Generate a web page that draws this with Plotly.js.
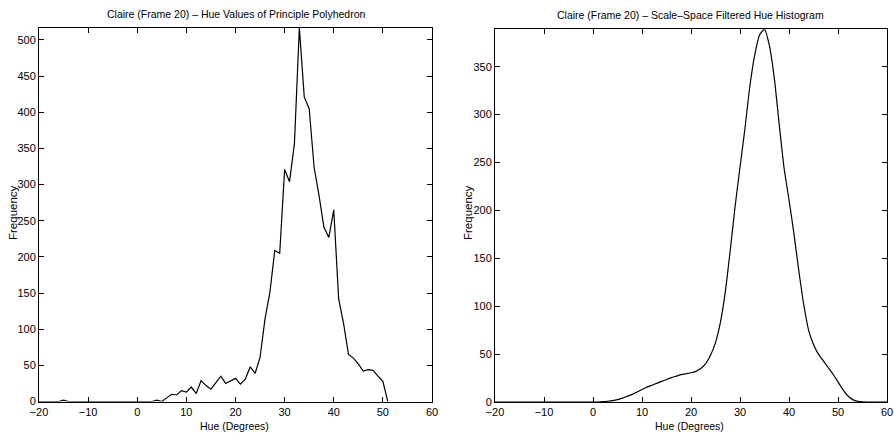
<!DOCTYPE html>
<html>
<head>
<meta charset="utf-8">
<script src="https://cdn.plot.ly/plotly-3.0.1.min.js"></script>
<style>html,body{margin:0;padding:0;background:#fff;}#chart{width:894px;height:437px;}</style>
</head>
<body>
<div id="chart"></div>
<script>
// Hue values (degrees), one sample per degree
const hueLeft = [];
for (let h = -20; h <= 51; h++) hueLeft.push(h);
// Raw histogram frequency (-20 .. 51)
const freqRaw = [
  0, 0, 0, 0, 0, 2, 0, 0, 0, 0,      // -20..-11
  0, 0, 0, 0, 0, 0, 0, 0, 0, 0,      // -10..-1
  1, 0, 0, 0, 2, 0, 5, 10, 9, 15,    // 0..9
  13, 20, 11, 29, 22, 17, 26, 35, 25, 28, // 10..19
  32, 24, 31, 48, 39, 61, 114, 151, 209, 205, // 20..29
  321, 304, 357, 517, 421, 405, 324, 285, 241, 227, // 30..39
  265, 142, 108, 65, 60, 52, 42, 44, 43, 35, // 40..49
  28, 0                               // 50..51
];

const hueRight = [];
for (let h = -20; h <= 60; h++) hueRight.push(h);
// Scale-space filtered histogram (-20 .. 60)
const freqFiltered = [
  0, 0, 0, 0, 0, 0, 0, 0, 0, 0,      // -20..-11
  0, 0, 0, 0, 0, 0, 0, 0, 0, 0,      // -10..-1
  0, 0, 0.3, 0.8, 1.5, 2.5, 4, 6, 8, 10.5, // 0..9
  13, 15.5, 17.5, 19.5, 21.5, 23.5, 25.5, 27, 28.5, 29.5, // 10..19
  30.5, 32, 35, 40, 49, 62, 83, 115, 158, 204, // 20..29
  245, 285, 329, 362, 383, 389, 372, 338, 290, 244, // 30..39
  211, 176, 137, 102, 75, 60, 50, 43, 36, 29, // 40..49
  21, 13, 6.5, 2.5, 0.8, 0.2, 0, 0, 0, 0, // 50..59
  0                                   // 60
];

const xTickVals = [-20, -10, 0, 10, 20, 30, 40, 50, 60];
const yTickValsLeft = [0, 50, 100, 150, 200, 250, 300, 350, 400, 450, 500];
const yTickValsRight = [0, 50, 100, 150, 200, 250, 300, 350];

const titleLeft = "Claire (Frame 20) \u2013 Hue Values of Principle Polyhedron";
const titleRight = "Claire (Frame 20) \u2013 Scale\u2013Space Filtered Hue Histogram";
const xTitle = "Hue (Degrees)";
const yTitle = "Frequency";

const W = 894, H = 437;
const FONT = "Liberation Sans, Arial, Helvetica, sans-serif";

const traces = [
  {x: hueLeft, y: freqRaw, type: 'scatter', mode: 'lines', xaxis: 'x', yaxis: 'y',
   line: {color: '#000', width: 1.2}, cliponaxis: true, hoverinfo: 'skip'},
  {x: hueRight, y: freqFiltered, type: 'scatter', mode: 'lines', xaxis: 'x2', yaxis: 'y2',
   line: {color: '#000', width: 1.2, shape: 'spline', smoothing: 0.6}, cliponaxis: true, hoverinfo: 'skip'}
];

function xax(domain, anchor) {
  return {domain: domain, anchor: anchor, range: [-20, 60], tickvals: xTickVals,
    ticktext: xTickVals.map(v => v < 0 ? '\u2212' + Math.abs(v) : String(v)),
    ticks: 'inside', ticklen: 5, tickwidth: 1, tickcolor: '#000',
    showline: true, linecolor: '#000', linewidth: 1, mirror: 'ticks',
    showgrid: false, zeroline: false, tickfont: {family: FONT, size: 11, color: '#000'}, fixedrange: true};
}
function yax(domain, anchor, range, vals) {
  return {domain: domain, anchor: anchor, range: range, tickvals: vals,
    ticks: 'inside', ticklen: 5, tickwidth: 1, tickcolor: '#000',
    showline: true, linecolor: '#000', linewidth: 1, mirror: 'ticks',
    showgrid: false, zeroline: false, tickfont: {family: FONT, size: 11, color: '#000'}, fixedrange: true};
}

const ann = (text, px, py, opts) => Object.assign({
  text: text, xref: 'paper', yref: 'paper', x: px / W, y: 1 - py / H,
  xanchor: 'center', yanchor: 'middle', showarrow: false,
  font: {family: FONT, size: 10.5, color: '#000'}
}, opts || {});

const layout = {
  width: W, height: H,
  margin: {l: 0, r: 0, t: 0, b: 0},
  paper_bgcolor: '#fff', plot_bgcolor: '#fff',
  showlegend: false,
  xaxis: xax([39 / W, 432 / W], 'y'),
  yaxis: yax([1 - 401.5 / H, 1 - 27.7 / H], 'x', [0, 517], yTickValsLeft),
  xaxis2: xax([495 / W, 887 / W], 'y2'),
  yaxis2: yax([1 - 402 / H, 1 - 29.3 / H], 'x2', [0, 389], yTickValsRight),
  annotations: [
    ann(titleLeft, 236, 14),
    ann(titleRight, 690, 15),
    ann(xTitle, 234, 426),
    ann(xTitle, 689, 426),
    ann(yTitle, 13, 213, {textangle: -90, font: {family: FONT, size: 11.5, color: '#000'}}),
    ann(yTitle, 468, 213, {textangle: -90, font: {family: FONT, size: 11.5, color: '#000'}})
  ]
};

Plotly.newPlot('chart', traces, layout, {displayModeBar: false, staticPlot: true});
</script>
</body>
</html>
